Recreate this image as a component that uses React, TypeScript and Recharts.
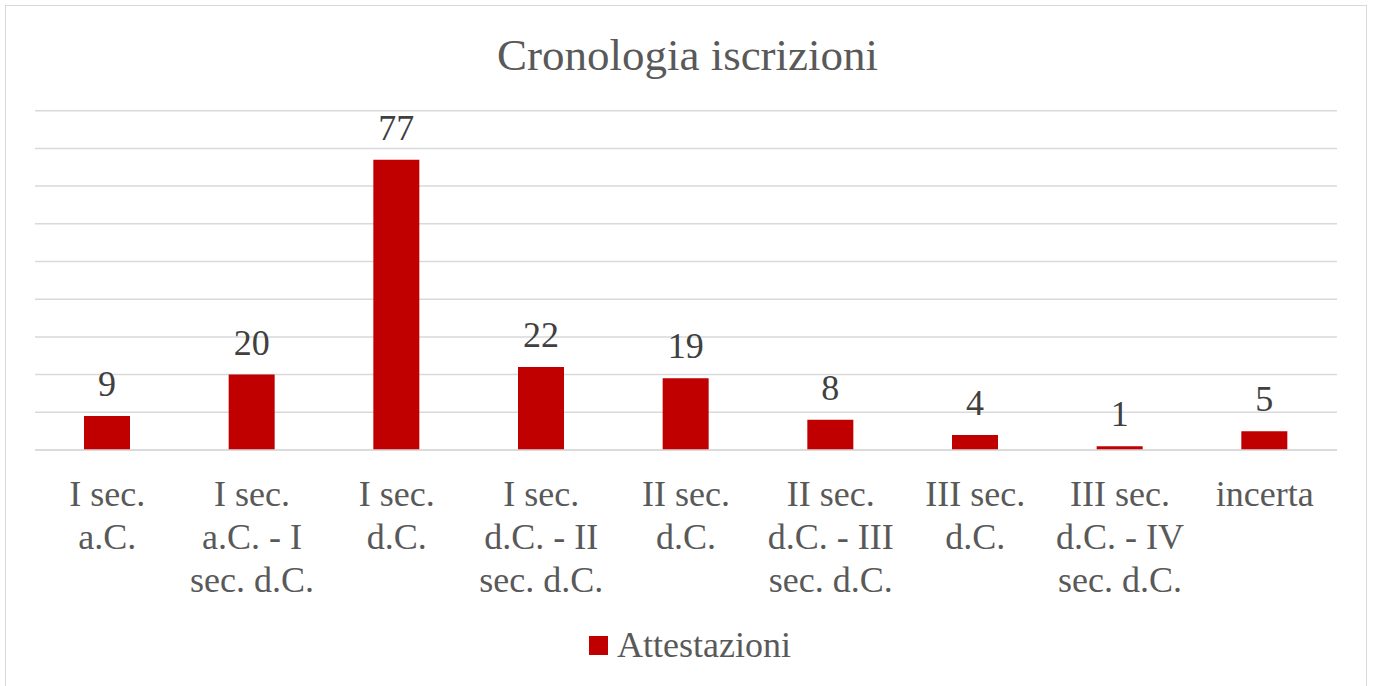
import React from "react";
import { BarChart, Bar, XAxis, YAxis, CartesianGrid, LabelList, Legend } from "recharts";

const categories = [
  "I sec. a.C.",
  "I sec. a.C. - I sec. d.C.",
  "I sec. d.C.",
  "I sec. d.C. - II sec. d.C.",
  "II sec. d.C.",
  "II sec. d.C. - III sec. d.C.",
  "III sec. d.C.",
  "III sec. d.C. - IV sec. d.C.",
  "incerta",
];
const tickLines: string[][] = [
  ["I sec.", "a.C."],
  ["I sec.", "a.C. - I", "sec. d.C."],
  ["I sec.", "d.C."],
  ["I sec.", "d.C. - II", "sec. d.C."],
  ["II sec.", "d.C."],
  ["II sec.", "d.C. - III", "sec. d.C."],
  ["III sec.", "d.C."],
  ["III sec.", "d.C. - IV", "sec. d.C."],
  ["incerta"],
];
const attestazioni = [9, 20, 77, 22, 19, 8, 4, 1, 5];
const yTicks = [0, 10, 20, 30, 40, 50, 60, 70, 80, 90];
const seriesName = "Attestazioni";
const title = "Cronologia iscrizioni";

const data = categories.map((c, i) => ({ name: c, value: attestazioni[i], idx: i }));

const FONT = "'Liberation Serif', 'Times New Roman', serif";

const CustomTick = (props: any) => {
  const { x, y, index } = props;
  const lines = tickLines[index] || [String(props.payload.value)];
  return (
    <g transform={`translate(${x},${y})`}>
      <text textAnchor="middle" fontFamily={FONT} fontSize={36} fill="#595959">
        {lines.map((l, i) => (
          <tspan key={i} x={0} y={56 + i * 43}>
            {l}
          </tspan>
        ))}
      </text>
    </g>
  );
};

const LegendContent = (props: any) => {
  const item = (props.payload && props.payload[0]) || { value: seriesName, color: "#C00000" };
  return (
    <svg width={260} height={50} style={{ display: "block" }}>
      <rect x={0} y={11} width={19} height={19} fill="#C00000" />
      <text x={28} y={32} fontFamily={FONT} fontSize={36} fill="#595959">
        {item.value}
      </text>
    </svg>
  );
};

export default function App() {
  return (
    <div
      style={{
        position: "absolute",
        left: 0,
        top: 0,
        width: 1375,
        height: 686,
        overflow: "hidden",
        background: "#ffffff",
      }}
    >
      <div
        style={{
          position: "absolute",
          left: 5,
          top: 5,
          width: 1362,
          height: 720,
          border: "1.5px solid #d9d9d9",
          boxSizing: "border-box",
        }}
      />
      <div
        style={{
          position: "absolute",
          left: 0,
          top: 30,
          width: 1375,
          textAlign: "center",
          fontFamily: FONT,
          fontSize: 45,
          lineHeight: "50px",
          color: "#595959",
        }}
      >
        {title}
      </div>
      <div style={{ position: "absolute", left: 0, top: 0 }}>
        <BarChart
          width={1375}
          height={686}
          data={data}
          margin={{ top: 110.7, right: 38, left: 35, bottom: 0 }}
          barCategoryGap={0}
        >
          <CartesianGrid vertical={false} stroke="#d9d9d9" strokeWidth={1.5} />
          <YAxis hide domain={[0, 90]} ticks={yTicks} />
          <XAxis
            dataKey="name"
            interval={0}
            tickLine={false}
            tickSize={0}
            tickMargin={0}
            axisLine={{ stroke: "#d9d9d9", strokeWidth: 1.5 }}
            height={236}
            tick={<CustomTick />}
          />
          <Legend
            layout="horizontal"
            verticalAlign="middle"
            align="center"
            wrapperStyle={{ left: 589, top: 625, width: 260 }}
            content={<LegendContent />}
          />
          <Bar dataKey="value" name={seriesName} fill="#C00000" barSize={46} isAnimationActive={false}>
            <LabelList
              dataKey="value"
              position="top"
              offset={20}
              fill="#404040"
              fontSize={36}
              fontFamily={FONT}
            />
          </Bar>
        </BarChart>
      </div>
    </div>
  );
}
